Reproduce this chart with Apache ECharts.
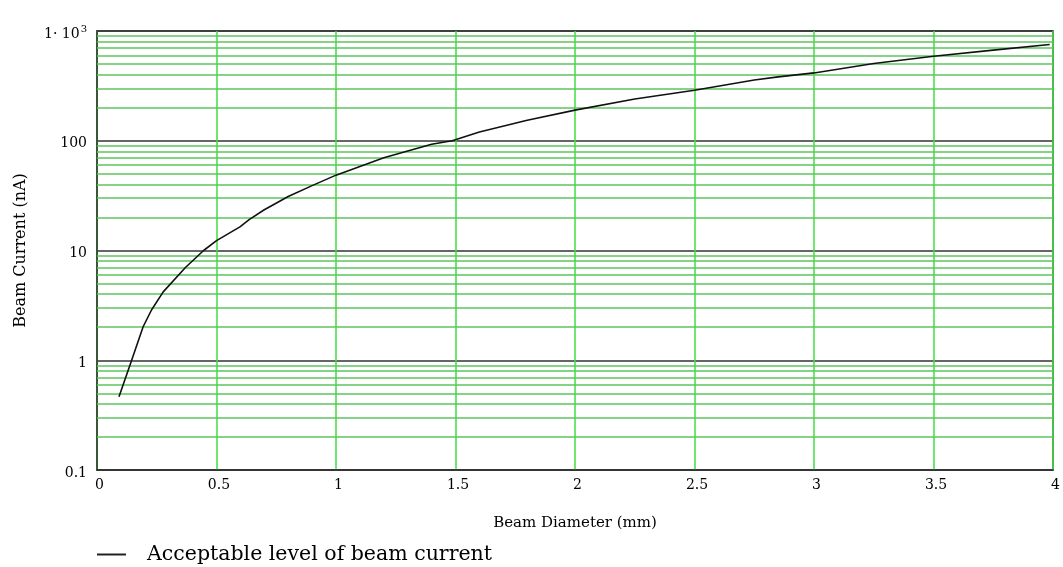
<!DOCTYPE html>
<html>
<head>
<meta charset="utf-8">
<script src="https://cdn.jsdelivr.net/npm/echarts@6/dist/echarts.min.js"></script>
<style>
html,body{margin:0;padding:0;background:#fff;}
#chart{width:1063px;height:567px;}
</style>
</head>
<body>
<div id="chart"></div>
<script>
// Beam diameter (mm)
const diameters = [0.092, 0.145, 0.193, 0.228, 0.277, 0.37, 0.446, 0.5, 0.598, 0.638, 0.7, 0.8, 0.9, 1.0, 1.2, 1.4, 1.486, 1.6, 1.8, 2.0, 2.25, 2.5, 2.75, 2.85, 3.0, 3.25, 3.5, 3.75, 3.986];
// Beam current (nA)
const currents = [0.466, 1.0, 2.02, 2.87, 4.2, 7.0, 10, 12.3, 16.4, 19.2, 23.5, 31, 39, 48.6, 70, 93, 100, 120, 154, 190, 240, 289, 358, 382, 415, 505, 589, 669, 753];
const seriesName = 'Acceptable level of beam current';
const xAxisTitle = 'Beam Diameter (mm)';
const yAxisTitle = 'Beam Current (nA)';
const yTickLabels = {0.1: '0.1', 1: '1', 10: '10', 100: '100', 1000: '{a|1· 10}{b|3}'};
const minorGrid = [0.2,0.3,0.4,0.5,0.6,0.7,0.8,0.9, 2,3,4,5,6,7,8,9, 20,30,40,50,60,70,80,90, 200,300,400,500,600,700,800,900];

const font = '"DejaVu Serif", "Liberation Serif", serif';
const chart = echarts.init(document.getElementById('chart'), null, {renderer: 'canvas'});
chart.setOption({
  animation: false,
  backgroundColor: '#fff',
  grid: {left: 97, right: 7, top: 31, bottom: 97, show: true, borderColor: '#333', borderWidth: 1.5, backgroundColor: 'transparent'},
  legend: {
    data: [{name: seriesName, icon: 'rect', itemStyle: {color: '#222'}}],
    left: 92, top: 539,
    itemWidth: 29, itemHeight: 2,
    textStyle: {fontFamily: font, fontSize: 20.5, color: '#000', padding: [0, 0, 0, 16]}
  },
  xAxis: {
    type: 'value', min: 0, max: 4, interval: 0.5,
    name: xAxisTitle, nameLocation: 'middle', nameGap: 46,
    nameTextStyle: {fontFamily: font, fontSize: 15, color: '#000'},
    axisLine: {show: true, lineStyle: {color: '#333', width: 1.5}},
    axisTick: {show: false},
    axisLabel: {fontFamily: font, fontSize: 14, color: '#000', margin: 8, padding: [0, 0, 0, 5], formatter: v => String(v)},
    splitLine: {show: true, lineStyle: {color: '#3fdf3f', width: 1.5}}
  },
  yAxis: {
    type: 'log', logBase: 10, min: 0.1, max: 1000,
    name: yAxisTitle, nameLocation: 'middle', nameGap: 68, nameRotate: 90,
    nameTextStyle: {fontFamily: font, fontSize: 16, color: '#000'},
    axisLine: {show: true, lineStyle: {color: '#333', width: 1.5}},
    axisTick: {show: false},
    axisLabel: {
      fontFamily: font, fontSize: 14, color: '#000', margin: 10, padding: [6, 0, 0, 0],
      formatter: v => {
        const key = Object.keys(yTickLabels).find(k => Math.abs(Number(k) - v) / v < 1e-6);
        return key !== undefined ? yTickLabels[key] : '';
      },
      rich: {
        a: {fontFamily: font, fontSize: 14, color: '#000'},
        b: {fontFamily: font, fontSize: 10, color: '#000', verticalAlign: 'top', padding: [0, 0, 10, 1]}
      }
    },
    splitLine: {show: true, lineStyle: {color: '#333', width: 1.5}},
    minorSplitLine: {show: false}
  },
  series: [
    {
      name: 'minor', type: 'line', data: [], z: 1, silent: true,
      markLine: {
        silent: true, symbol: 'none', animation: false,
        label: {show: false},
        lineStyle: {color: '#5cc65c', type: 'solid', width: 1.5},
        emphasis: {disabled: true},
        data: minorGrid.map(v => ({yAxis: v}))
      }
    },
    {
      name: seriesName, type: 'line', z: 5,
      data: diameters.map((d, i) => [d, currents[i]]),
      symbol: 'none', smooth: false,
      lineStyle: {color: '#111', width: 1.6},
      itemStyle: {color: '#111'}
    }
  ]
});
</script>
</body>
</html>
